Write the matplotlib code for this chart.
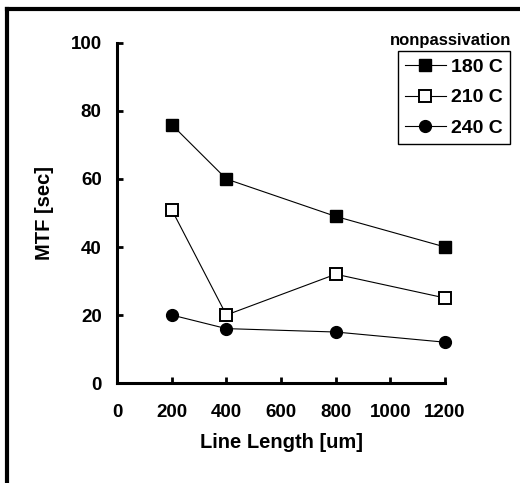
import matplotlib.pyplot as plt
from matplotlib.lines import Line2D

plt.rcParams['font.family'] = ['Liberation Sans', 'DejaVu Sans']
plt.rcParams['font.weight'] = 'bold'

length = [200, 400, 800, 1200]
mtf_180 = [76, 60, 49, 40]
mtf_210 = [51, 20, 32, 25]
mtf_240 = [20, 16, 15, 12]
labels = ["180 C", "210 C", "240 C"]

fig = plt.figure(figsize=(5.2, 4.83), dpi=100)
ax = fig.add_axes([0.225, 0.207, 0.631, 0.704])

ax.plot(length, mtf_180, 'k-s', lw=0.8, ms=9, clip_on=False, label=labels[0])
ax.plot(length, mtf_210, 'k-s', lw=0.8, ms=9, mfc='white', mew=1.4,
        clip_on=False, label=labels[1])
ax.plot(length, mtf_240, 'k-o', lw=0.8, ms=8.5, clip_on=False, label=labels[2])

ax.set_xlim(0, 1200)
ax.set_ylim(0, 100)
ax.set_xticks([0, 200, 400, 600, 800, 1000, 1200])
ax.set_yticks([0, 20, 40, 60, 80, 100])
ax.spines['top'].set_visible(False)
ax.spines['right'].set_visible(False)
ax.spines['left'].set_linewidth(2.2)
ax.spines['bottom'].set_linewidth(2.2)
ax.tick_params(axis='both', direction='in', length=4, width=2, labelsize=13.5)
ax.tick_params(axis='x', pad=15)
ax.tick_params(axis='y', pad=11)
ax.set_xlabel("Line Length [um]", fontsize=14.5, fontweight='bold', labelpad=9)
ax.set_ylabel("MTF [sec]", fontsize=14.5, fontweight='bold', labelpad=12)

leg = ax.legend(loc='upper right', bbox_to_anchor=(0.981, 0.894),
                bbox_transform=fig.transFigure, fancybox=False, framealpha=1,
                edgecolor='black', fontsize=14, handlelength=2.1,
                handletextpad=0.3, borderpad=0.35, labelspacing=0.68,
                borderaxespad=0)
leg.get_frame().set_linewidth(1)
fig.text(0.984, 0.917, "nonpassivation", ha='right', va='center',
         fontsize=12, fontweight='bold')

# outer frame (top and left edges only)
fig.add_artist(Line2D([0.014, 1.0], [0.981, 0.981], color='black', lw=3,
                      transform=fig.transFigure))
fig.add_artist(Line2D([0.014, 0.014], [0.0, 0.981], color='black', lw=3,
                      transform=fig.transFigure))

fig.savefig("out.png", dpi=100)
